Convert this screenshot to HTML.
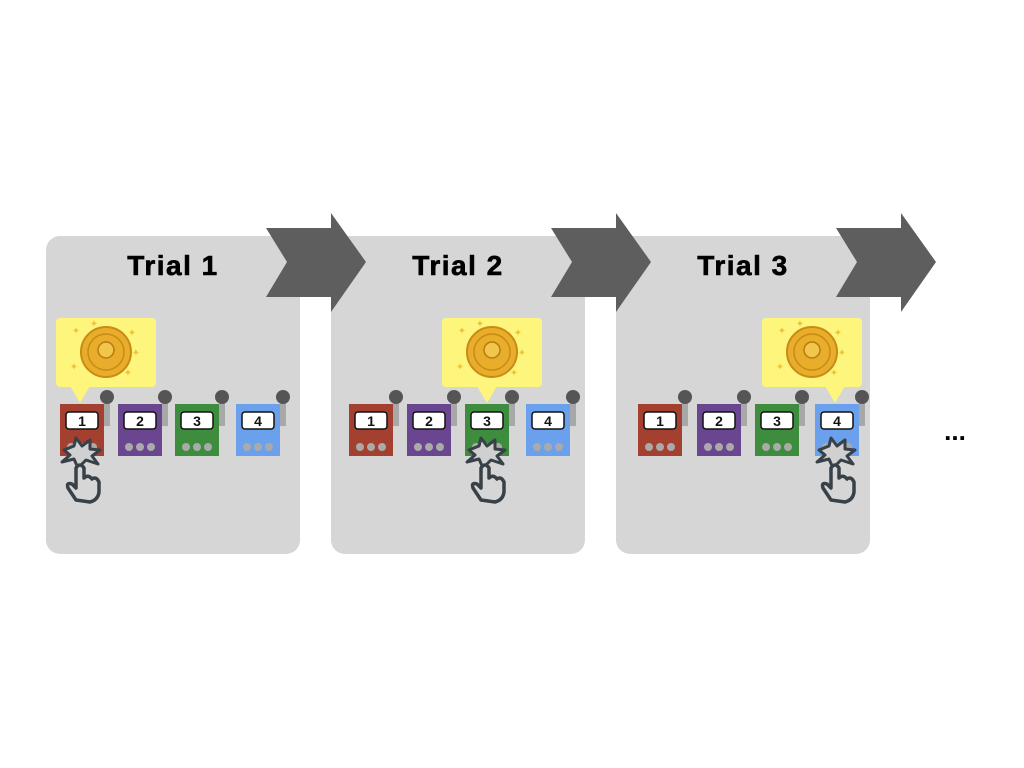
<!DOCTYPE html>
<html><head><meta charset="utf-8"><style>
html,body{margin:0;padding:0;background:#fff;}
svg{display:block;}
text{font-family:"Liberation Sans",sans-serif;}
</style></head><body>
<svg id="s" width="1024" height="768" viewBox="0 0 1024 768">
<g id="root"></g>
<g id="toplayer"></g>
</svg>
<script>
const trials = ["Trial 1","Trial 2","Trial 3"];
const chosen = [1,3,4];
const machineLabels = ["1","2","3","4"];
const machineColors = ["#a3402f","#6a4690","#3e8c3d","#6ba1ec"];
const NS="http://www.w3.org/2000/svg";
const rootG=document.getElementById('root');
const topLayer=document.getElementById('toplayer');
function mk(tag,attrs,parent){const e=document.createElementNS(NS,tag);for(const k in attrs)e.setAttribute(k,attrs[k]);(parent||rootG).appendChild(e);return e;}
const panelX=[46,331,616];
const machineOff=[[14,72,129,190],[18,76,134,195],[22,81,139,199]];
const bubbleOff=[10,111,146];
const tipOff=[34,156,219];
trials.forEach((t,i)=>{
  const px=panelX[i];
  const g=mk('g',{});
  
  
  mk('rect',{x:px,y:236,width:254,height:318,rx:14,fill:'#d6d6d6'},g);
  const arrow=mk('polygon',{points:`${px+220},228 ${px+285},228 ${px+285},213 ${px+320},262 ${px+285},312 ${px+285},297 ${px+220},297 ${px+241},262`,fill:'#5e5e5e'},topLayer);
  
  
  const tt=mk('text',{x:px+127,y:275,'text-anchor':'middle','font-size':28,'font-weight':'bold','letter-spacing':'1.5',fill:'#000',stroke:'#000','stroke-width':0.6},g);
  tt.textContent=t;
  
  
  machineLabels.forEach((lab,j)=>{
    const mx=px+machineOff[i][j], my=404;
    const m=mk('g',{},g);
    
    
    mk('rect',{x:mx+44,y:400,width:6,height:26,fill:'#a8a8a8'},m);
    mk('circle',{cx:mx+47,cy:397,r:7,fill:'#555'},m);
    mk('rect',{x:mx,y:my,width:44,height:52,fill:machineColors[j]},m);
    mk('rect',{x:mx+6,y:my+8,width:32,height:17,rx:3,fill:'#fff',stroke:'#111','stroke-width':1.5},m);
    const lt=mk('text',{x:mx+22,y:my+22,'text-anchor':'middle','font-size':14,'font-weight':'bold',fill:'#111'},m);
    lt.textContent=lab;
    [11,22,33].forEach(dx=>mk('circle',{cx:mx+dx,cy:my+43,r:4,fill:'#aaa'},m));
    if(j+1===chosen[i]){
      const cx=mx+22;
      const b=mk('g',{},g);
      
      
      const bx=px+bubbleOff[i];
      const tx=px+tipOff[i];
      mk('rect',{x:bx,y:318,width:100,height:69,rx:4,fill:'#fdf57c'},b);
      mk('polygon',{points:`${tx-10},386 ${tx+10},386 ${tx},403`,fill:'#fdf57c'},b);
      const ccx=bx+50;
      mk('circle',{cx:ccx,cy:352,r:25,fill:'#e8ad2a',stroke:'#c98a17','stroke-width':2},b);
      mk('circle',{cx:ccx,cy:352,r:18,fill:'none',stroke:'#c98a17','stroke-width':1.5},b);
      mk('circle',{cx:ccx,cy:350,r:8,fill:'#f2c64a',stroke:'#b57a12','stroke-width':1.5},b);
      [[-30,-22],[26,-20],[-32,14],[22,20],[-12,-29],[30,0]].forEach(d=>mk('text',{x:ccx+d[0],y:352+d[1]+4,'font-size':10,fill:'#f0c23a','text-anchor':'middle'},b).textContent='✦');
      const h=mk('g',{},g);
      
      
      mk('polygon',{points:`${cx-18},${my+46} ${cx-8},${my+42} ${cx-6},${my+34} ${cx},${my+42} ${cx+8},${my+36} ${cx+8},${my+45} ${cx+18},${my+46} ${cx+10},${my+52} ${cx+16},${my+60} ${cx+4},${my+56} ${cx-4},${my+64} ${cx-8},${my+55} ${cx-20},${my+58} ${cx-12},${my+51}`,fill:'#d0d0d0',stroke:'#384048','stroke-width':3,'stroke-linejoin':'round'},h);
      mk('path',{d:`M${cx-6},${my+96} L${cx-14},${my+84} Q${cx-16},${my+78} ${cx-10},${my+80} L${cx-6},${my+84} L${cx-6},${my+64} Q${cx-2},${my+58} ${cx+2},${my+64} L${cx+2},${my+74} Q${cx+6},${my+70} ${cx+10},${my+75} Q${cx+14},${my+72} ${cx+17},${my+78} L${cx+17},${my+88} Q${cx+16},${my+96} ${cx+8},${my+98} Z`,fill:'#d6d6d6',stroke:'#384048','stroke-width':3.5,'stroke-linejoin':'round'},h);
    }
  });
});
const el=mk('text',{x:955,y:440,'text-anchor':'middle','font-size':26,'font-weight':'bold',fill:'#000'});
el.textContent='...';


</script>
</body></html>
